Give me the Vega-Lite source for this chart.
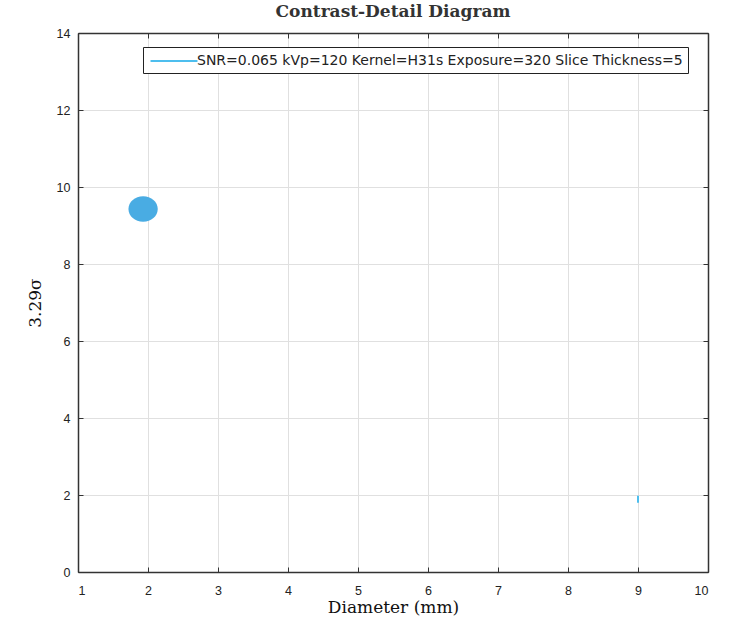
{
  "$schema": "https://vega.github.io/schema/vega-lite/v6.json",
  "width": 630,
  "height": 539,
  "autosize": {"type": "none"},
  "padding": {"left": 78, "top": 33, "right": 22, "bottom": 51},
  "background": "white",
  "title": {"text": "Contrast-Detail Diagram", "font": "DejaVu Serif", "fontSize": 17, "fontWeight": "bold", "color": "#333", "anchor": "middle", "offset": 6},
  "config": {
    "view": {"stroke": null},
    "axis": {"labelFont": "Liberation Sans", "labelFontSize": 12.5, "labelColor": "#222", "titleFont": "DejaVu Serif", "titleFontSize": 17, "titleFontWeight": "normal", "titleColor": "#111", "domainColor": "#333", "domainWidth": 1.5, "tickColor": "#333", "tickSize": -5, "gridColor": "#e0e0e0", "gridWidth": 1}
  },
  "datasets": {
    "ellipse": [{"d": 1.93, "v": 9.43}],
    "series": [
      {"s": "SNR=0.065 kVp=120 Kernel=H31s Exposure=320 Slice Thickness=5", "d": 9, "v": 1.8},
      {"s": "SNR=0.065 kVp=120 Kernel=H31s Exposure=320 Slice Thickness=5", "d": 9, "v": 1.98}
    ]
  },
  "layer": [
    {
      "data": {"name": "ellipse"},
      "mark": {"type": "point", "shape": "M-1.15,0A1.15,1,0,1,0,1.15,0A1.15,1,0,1,0,-1.15,0Z", "filled": true, "opacity": 1, "color": "#49ace3", "size": 650},
      "encoding": {
        "x": {"field": "d", "type": "quantitative", "scale": {"domain": [1, 10], "nice": false}, "axis": {"orient": "bottom", "values": [1,2,3,4,5,6,7,8,9,10], "title": "Diameter (mm)", "grid": true, "labelPadding": 17, "titlePadding": 3}},
        "y": {"field": "v", "type": "quantitative", "scale": {"domain": [0, 14], "nice": false}, "axis": {"orient": "left", "values": [0,2,4,6,8,10,12,14], "title": "3.29σ", "grid": true, "labelPadding": 13, "titlePadding": 12}}
      }
    },
    {
      "data": {"name": "series"},
      "mark": {"type": "line", "strokeWidth": 2},
      "encoding": {
        "x": {"field": "d", "type": "quantitative", "axis": {"orient": "top", "values": [1,2,3,4,5,6,7,8,9,10], "labels": false, "title": null, "grid": false}},
        "y": {"field": "v", "type": "quantitative", "axis": {"orient": "right", "values": [0,2,4,6,8,10,12,14], "labels": false, "title": null, "grid": false}},
        "color": {"field": "s", "type": "nominal", "scale": {"range": ["#4dbeee"]}, "legend": {"title": null, "orient": "none", "legendX": 65, "legendY": 14, "symbolType": "M-3,0H3", "symbolSize": 245, "symbolStrokeWidth": 2, "symbolOffset": 17, "strokeColor": "#222", "fillColor": "white", "padding": 5, "cornerRadius": 0, "labelFont": "DejaVu Sans", "labelFontSize": 14, "labelColor": "#222", "labelLimit": 600, "labelOffset": 14}}
      }
    }
  ],
  "resolve": {"axis": {"x": "independent", "y": "independent"}}
}
